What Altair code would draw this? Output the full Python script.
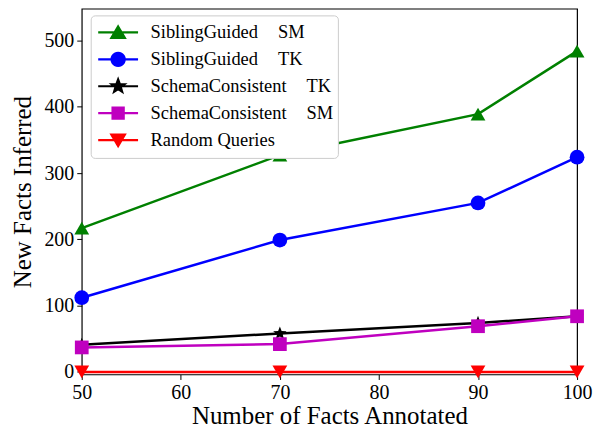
import math
import altair as alt
import pandas as pd

# ---- data ----
facts_annotated = [50, 70, 90, 100]
GAP = "\u00a0\u00a0\u00a0\u00a0\u200a"
series_labels = [
    "SiblingGuided" + GAP + "SM",
    "SiblingGuided" + GAP + "TK",
    "SchemaConsistent" + GAP + "TK",
    "SchemaConsistent" + GAP + "SM",
    "Random Queries",
]
sibling_sm = [217, 327, 389, 484]
sibling_tk = [112, 199, 255, 324]
schema_tk = [41, 58, 74, 84]
schema_sm = [37, 42, 69, 84]
random_q = [0, 0, 0, 0]
series_values = [sibling_sm, sibling_tk, schema_tk, schema_sm, random_q]

colors = ["#008000", "#0000ff", "#000000", "#bf00bf", "#ff0000"]
x_ticks = [50, 60, 70, 80, 90, 100]
y_ticks = [0, 100, 200, 300, 400, 500]


def poly(pts):
    return "M" + "L".join(f"{px:.3f},{py:.3f}" for px, py in pts) + "Z"


def star_pts(ro, ri):
    out = []
    for i in range(10):
        r = ro if i % 2 == 0 else ri
        a = -math.pi / 2 + i * math.pi / 5
        out.append((r * math.cos(a), r * math.sin(a)))
    return out


def circle_pts(r, n=24):
    return [(r * math.cos(2 * math.pi * i / n), r * math.sin(2 * math.pi * i / n)) for i in range(n)]


star_shape = poly(star_pts(1.0, 0.42))
shapes = ["triangle-up", "circle", star_shape, "square", "triangle-down"]
sizes = [220, 220, 200, 190, 220]

# legend symbols: line segment plus marker (unit box -1..1)
seg = "M-1,0L1,0"
legend_paths = [
    seg + poly([(0, -0.30), (0.34, 0.28), (-0.34, 0.28)]),
    seg + poly(circle_pts(0.33)),
    seg + poly(star_pts(0.34, 0.14)),
    seg + poly([(-0.28, -0.28), (0.28, -0.28), (0.28, 0.28), (-0.28, 0.28)]),
    seg + poly([(-0.34, -0.28), (0.34, -0.28), (0, 0.30)]),
]

rows = []
for name, vals in zip(series_labels, series_values):
    for xv, yv in zip(facts_annotated, vals):
        rows.append({"series": name, "x": xv, "y": yv})
df = pd.DataFrame(rows)

xs = alt.Scale(domain=[50, 100], nice=False, zero=False)
ys = alt.Scale(domain=[-3.8, 548], nice=False, zero=False)

x_enc = alt.X("x:Q", scale=xs, axis=alt.Axis(values=x_ticks, title="Number of Facts Annotated"))
y_enc = alt.Y("y:Q", scale=ys, axis=alt.Axis(values=y_ticks, title="New Facts Inferred"))

base = alt.Chart(df)
layers = []
for name, col, shp, sz in zip(series_labels, colors, shapes, sizes):
    sub = base.transform_filter(alt.datum.series == name)
    layers.append(sub.mark_line(strokeWidth=2.5, color=col).encode(x=x_enc, y=y_enc))
    layers.append(
        sub.mark_point(filled=True, opacity=1, shape=shp, size=sz, color=col).encode(x=x_enc, y=y_enc)
    )

leg = alt.Legend(
    title=None,
    orient="none",
    legendX=9,
    legendY=6.7,
    symbolSize=1600,
    symbolOpacity=1,
    symbolStrokeWidth=2.2,
    symbolOffset=2,
    clipHeight=26.2,
    rowPadding=0,
    labelOffset=11,
    labelFont="Liberation Serif",
    labelFontSize=18.5,
    labelColor="#000000",
    labelLimit=400,
    padding=4,
    fillColor="white",
    strokeColor="#cccccc",
    cornerRadius=4,
)

legend_layer = base.mark_point(filled=True, opacity=0).encode(
    x=x_enc,
    y=y_enc,
    fill=alt.Fill("series:N", sort=series_labels,
                  scale=alt.Scale(domain=series_labels, range=colors), legend=leg),
    stroke=alt.Stroke("series:N", sort=series_labels,
                      scale=alt.Scale(domain=series_labels, range=colors), legend=leg),
    shape=alt.Shape("series:N", sort=series_labels,
                    scale=alt.Scale(domain=series_labels, range=legend_paths), legend=leg),
)

chart = (
    alt.layer(*layers, legend_layer)
    .properties(
        width=497,
        height=367,
        autosize=alt.AutoSizeParams(type="none"),
        padding={"left": 74, "top": 0, "right": 22, "bottom": 52},
    )
    .configure_view(stroke="#000000", strokeWidth=1.2)
    .configure_axis(
        grid=False,
        domain=False,
        ticks=True,
        tickColor="#000000",
        tickSize=5,
        tickWidth=1,
        labelFont="Liberation Serif",
        labelFontSize=20,
        labelColor="#000000",
        labelPadding=3,
        titleFont="Liberation Serif",
        titleFontSize=25,
        titleFontWeight="normal",
        titleColor="#000000",
    )
    .configure_axisX(titlePadding=1, labelFlush=False)
    .configure_axisY(titlePadding=8)
)

chart.save("out.html", embed_options={"renderer": "svg", "actions": False})
